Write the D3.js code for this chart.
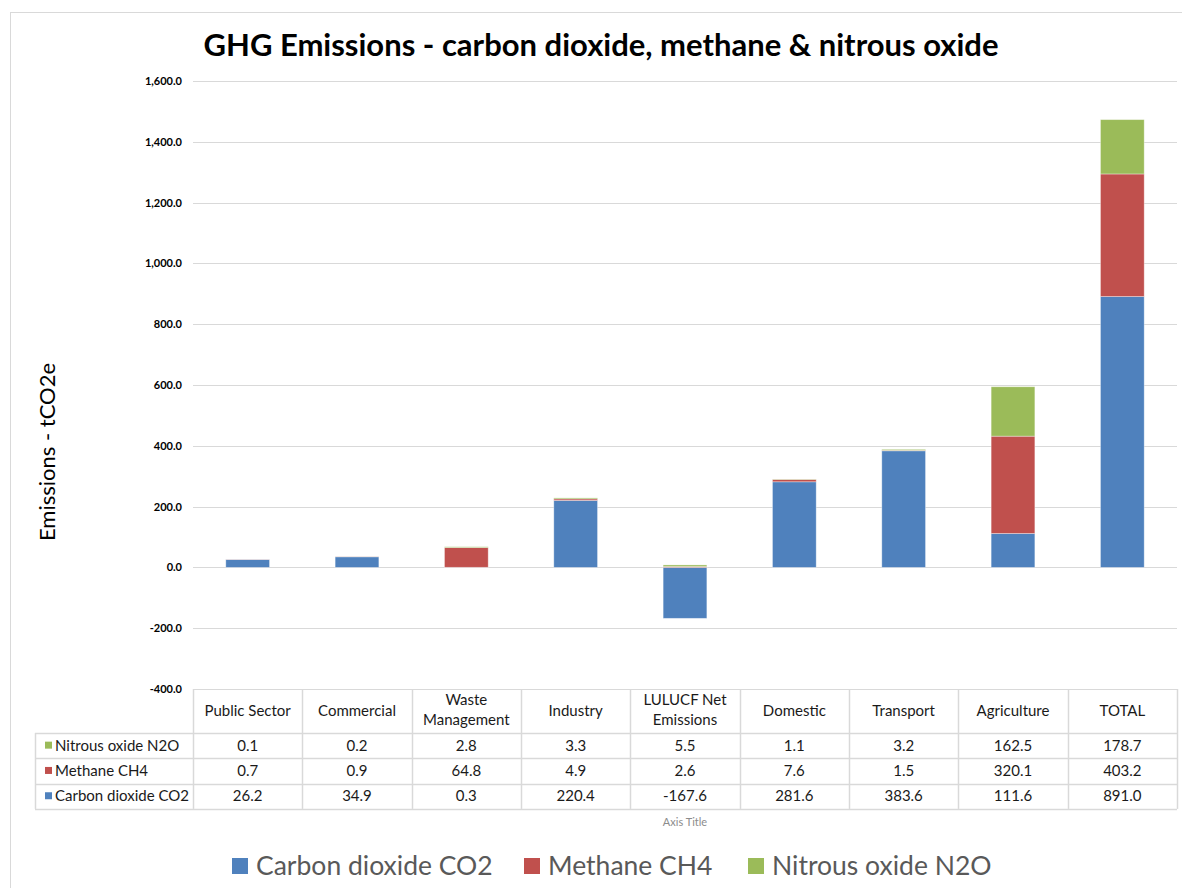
<!DOCTYPE html>
<html>
<head>
<meta charset="utf-8">
<script src="https://cdn.jsdelivr.net/npm/d3@7"></script>
<style>
  body { margin: 0; background: #fff; }
  svg { font-family: Lato, "Open Sans", sans-serif; }
</style>
</head>
<body>
<script>
// chart data
const categories = ["Public Sector", "Commercial", "Waste Management", "Industry", "LULUCF Net Emissions", "Domestic", "Transport", "Agriculture", "TOTAL"]
const co2 = [26.2, 34.9, 0.3, 220.4, -167.6, 281.6, 383.6, 111.6, 891.0]
const ch4 = [0.7, 0.9, 64.8, 4.9, 2.6, 7.6, 1.5, 320.1, 403.2]
const n2o = [0.1, 0.2, 2.8, 3.3, 5.5, 1.1, 3.2, 162.5, 178.7]
const seriesNames = ["Carbon dioxide CO2", "Methane CH4", "Nitrous oxide N2O"]
const seriesColors = ["#4F81BD", "#C0504D", "#9BBB59"]
const yTicks = [-400, -200, 0, 200, 400, 600, 800, 1000, 1200, 1400, 1600]

const W = 1182, H = 888
const svg = d3.select("body").append("svg")
  .attr("width", W)
  .attr("height", H)

// outer chart frame
svg.append("rect")
  .attr("x", 10.5).attr("y", 12.5)
  .attr("width", W).attr("height", H)
  .attr("fill", "none").attr("stroke", "#d9d9d9")

svg.append("text")
  .attr("x", 601).attr("y", 56)
  .attr("text-anchor", "middle")
  .attr("font-size", 31).attr("font-weight", "bold")
  .attr("fill", "#000")
  .text("GHG Emissions - carbon dioxide, methane & nitrous oxide")

var x = d3.scaleBand()
  .domain(categories)
  .range([193, 1177])
var y = d3.scaleLinear()
  .domain([-400, 1600])
  .range([689, 81])

// gridlines
svg.append("g")
  .selectAll("line")
  .data(yTicks)
  .enter().append("line")
  .attr("x1", 193).attr("x2", 1177)
  .attr("y1", d => Math.round(y(d)) + 0.5)
  .attr("y2", d => Math.round(y(d)) + 0.5)
  .attr("stroke", "#d9d9d9")

// y axis labels (plain hyphen for negatives, like the original)
var locale = d3.formatLocale({decimal: ".", thousands: ",", grouping: [3], currency: ["", ""], minus: "-"})
var fmt = locale.format(",.1f")
var yAxis = svg.append("g")
  .attr("transform", "translate(193,0)")
  .call(d3.axisLeft(y).tickValues(yTicks).tickFormat(fmt).tickSize(0).tickPadding(11))
yAxis.select(".domain").remove()
yAxis.selectAll("text")
  .attr("font-family", "Lato, sans-serif")
  .attr("font-size", 11)
  .attr("font-weight", "bold")
  .attr("fill", "#000")

svg.append("text")
  .attr("transform", "translate(55,452) rotate(-90)")
  .attr("text-anchor", "middle")
  .attr("font-size", 22)
  .attr("fill", "#000")
  .text("Emissions - tCO2e")

// stacked bars
var rows = categories.map((c, i) => ({cat: c, co2: co2[i], ch4: ch4[i], n2o: n2o[i]}))
var stack = d3.stack()
  .keys(["co2", "ch4", "n2o"])
  .offset(d3.stackOffsetDiverging)
var layers = stack(rows)
var barW = x.bandwidth() * 0.4

svg.append("g")
  .selectAll("g")
  .data(layers)
  .enter().append("g")
  .attr("fill", (d, i) => seriesColors[i])
  .selectAll("rect")
  .data(d => d)
  .enter().append("rect")
  .attr("x", d => x(d.data.cat) + (x.bandwidth() - barW) / 2)
  .attr("width", barW)
  .attr("y", d => y(Math.max(d[0], d[1])))
  .attr("height", d => Math.abs(y(d[0]) - y(d[1])))
  .attr("stroke", "rgba(255,255,255,0.45)")
  .attr("stroke-width", 0.8)

// data table
var tTop = 689, headH = 44, rowH = 25.3
var tLeft = 35, tRight = 1177
var tableRows = [
  {name: seriesNames[2], color: seriesColors[2], vals: n2o},
  {name: seriesNames[1], color: seriesColors[1], vals: ch4},
  {name: seriesNames[0], color: seriesColors[0], vals: co2}
]
var table = svg.append("g")
var lineCol = "#d9d9d9"
var tBottom = tTop + headH + rowH * 3
// horizontal lines
table.append("line")
  .attr("x1", 193).attr("x2", tRight)
  .attr("y1", tTop + 0.5).attr("y2", tTop + 0.5)
  .attr("stroke", lineCol)
d3.range(4).forEach(function(i) {
  var yy = Math.round(tTop + headH + rowH * i) + 0.5
  table.append("line")
    .attr("x1", tLeft).attr("x2", tRight)
    .attr("y1", yy).attr("y2", yy)
    .attr("stroke", lineCol).attr("stroke-width", 1.5)
})
// vertical lines
table.append("line")
  .attr("x1", tLeft + 0.5).attr("x2", tLeft + 0.5)
  .attr("y1", tTop + headH).attr("y2", tBottom)
  .attr("stroke", lineCol).attr("stroke-width", 1.5)
categories.concat(["end"]).forEach(function(c, i) {
  var xx = Math.round(193 + x.bandwidth() * i) + 0.5
  table.append("line")
    .attr("x1", xx).attr("x2", xx)
    .attr("y1", tTop).attr("y2", tBottom)
    .attr("stroke", lineCol).attr("stroke-width", 1.5)
})

// header labels (wrapped)
function wrapLabel(s) {
  if (s === "Waste Management") return ["Waste", "Management"]
  if (s === "LULUCF Net Emissions") return ["LULUCF Net", "Emissions"]
  return [s]
}
table.selectAll(".hdr")
  .data(categories)
  .enter().append("text")
  .attr("class", "hdr")
  .attr("text-anchor", "middle")
  .attr("font-size", 15)
  .attr("fill", "#1a1a1a")
  .attr("x", d => x(d) + x.bandwidth() / 2)
  .attr("y", d => wrapLabel(d).length > 1 ? tTop + 16 : tTop + 27)
  .each(function(d) {
    var lines = wrapLabel(d)
    var t = d3.select(this)
    lines.forEach(function(l, k) {
      t.append("tspan")
        .attr("x", x(d) + x.bandwidth() / 2)
        .attr("dy", k === 0 ? 0 : 20)
        .text(l)
    })
  })

tableRows.forEach(function(r, i) {
  var cy = tTop + headH + rowH * i + rowH / 2
  table.append("rect")
    .attr("x", 45).attr("y", cy - 4)
    .attr("width", 7).attr("height", 7)
    .attr("fill", r.color)
  table.append("text")
    .attr("x", 55).attr("y", cy + 5)
    .attr("font-size", 15)
    .attr("fill", "#1a1a1a")
    .text(r.name)
  table.append("g")
    .selectAll("text")
    .data(r.vals)
    .enter().append("text")
    .attr("x", (d, j) => x(categories[j]) + x.bandwidth() / 2)
    .attr("y", cy + 5)
    .attr("text-anchor", "middle")
    .attr("font-size", 15)
    .attr("fill", "#1a1a1a")
    .text(d => fmt(d))
})

svg.append("text")
  .attr("x", 685).attr("y", 826)
  .attr("text-anchor", "middle")
  .attr("font-size", 11)
  .attr("fill", "#8c8c8c")
  .text("Axis Title")

// legend
var legendX = [232, 524, 748]
var legend = svg.append("g")
  .selectAll("g")
  .data(seriesNames)
  .enter().append("g")
  .attr("transform", (d, i) => "translate(" + legendX[i] + ",858)")
legend.append("rect")
  .attr("width", 16).attr("height", 16)
  .attr("fill", (d, i) => seriesColors[i])
legend.append("text")
  .attr("x", 24).attr("y", 17)
  .attr("font-size", 26.5)
  .attr("fill", "#595959")
  .text(d => d)
</script>
</body>
</html>
